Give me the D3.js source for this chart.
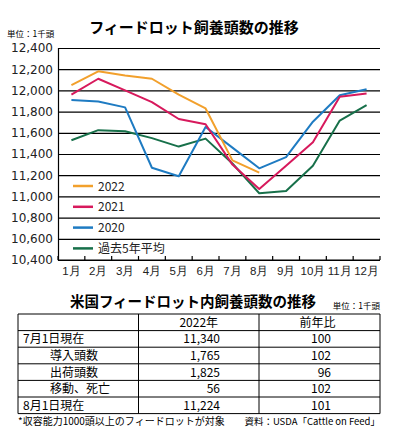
<!DOCTYPE html>
<html><head><meta charset="utf-8">
<script src="https://cdn.jsdelivr.net/npm/d3@7"></script>
<style>
body{margin:0;background:#fff;}
svg{display:block;font-family:"Noto Sans CJK JP","Noto Sans",sans-serif;}
</style></head>
<body><svg id="c" width="398" height="433"></svg>
<script>
const months = ["1月","2月","3月","4月","5月","6月","7月","8月","9月","10月","11月","12月"];
const yTicks = [10400,10600,10800,11000,11200,11400,11600,11800,12000,12200,12400];
const s2022 = [12050,12180,12140,12110,11960,11830,11340,11224];
const s2021 = [11960,12110,12000,11890,11730,11680,11300,11070,11290,11510,11940,11970];
const s2020 = [11910,11895,11840,11270,11190,11655,11460,11265,11370,11705,11955,12010];
const sAvg  = [11530,11625,11615,11550,11470,11545,11310,11030,11050,11290,11715,11860];
const seriesNames = ["2022","2021","2020","過去5年平均"];
const seriesColors = ["#F2A02C","#D7195C","#1E7BC2","#17704A"];

const tableHeader = ["","2022年","前年比"];
const rowLabels = ["7月1日現在","導入頭数","出荷頭数","移動、死亡","8月1日現在"];
const rowIndent = [false,true,true,true,false];
const val2022 = ["11,340","1,765","1,825","56","11,224"];
const valYoY = ["100","102","96","102","101"];

const svg = d3.select("#c");
const L=58, R=380, T=48, B=260;
const x = d3.scaleBand().domain(months).range([L,R]).padding(0);
const y = d3.scaleLinear().domain([10400,12400]).range([B,T]);

// title
svg.append("text").attr("x",194).attr("y",33).attr("text-anchor","middle")
  .attr("font-size",15).attr("font-weight","bold").text("フィードロット飼養頭数の推移");
svg.append("text").attr("x",7).attr("y",37).attr("font-size",8.5).text("単位：1千頭");

// gridlines + y labels
const ga = svg.append("g").attr("transform",`translate(${L},0)`)
  .call(d3.axisLeft(y).tickValues(yTicks).tickFormat(d3.format(",")).tickSize(-(R-L)).tickPadding(5));
ga.select(".domain").attr("stroke","#000").attr("stroke-width",1.2);
ga.selectAll(".tick line").attr("stroke","#000").attr("stroke-width",1.2);
ga.selectAll(".tick text").attr("fill","#222")
  .attr("font-family","Verdana,'DejaVu Sans',sans-serif").attr("font-size",12).attr("x",-5);

// x axis
const xa = svg.append("g").attr("transform",`translate(0,${B})`)
  .call(d3.axisBottom(x).tickSize(0).tickPadding(7));
xa.select(".domain").remove();
xa.selectAll(".tick text").attr("font-size",11.5).attr("fill","#222");
const edges = months.map(m=>x(m)).concat([x(months[months.length-1])+x.bandwidth()]);
svg.append("g").selectAll("line").data(edges).join("line")
  .attr("x1",d=>d).attr("x2",d=>d).attr("y1",B).attr("y2",B-4)
  .attr("stroke","#000").attr("stroke-width",1.2);
svg.append("line").attr("x1",L).attr("x2",R).attr("y1",B).attr("y2",B).attr("stroke","#000").attr("stroke-width",1.2);

// lines
const line = d3.line().x((d,i)=>x(months[i])+x.bandwidth()/2).y(d=>y(d));
const data = [sAvg, s2020, s2021, s2022];
const cols = [seriesColors[3],seriesColors[2],seriesColors[1],seriesColors[0]];
data.forEach((s,k)=>{
  svg.append("path").datum(s).attr("d",line).attr("fill","none")
    .attr("stroke",cols[k]).attr("stroke-width",2).attr("stroke-linejoin","round");
});

// legend
const lg = svg.append("g");
seriesNames.forEach((n,i)=>{
  const yy = 186 + i*20.8;
  lg.append("line").attr("x1",73).attr("x2",93).attr("y1",yy).attr("y2",yy)
    .attr("stroke",seriesColors[i]).attr("stroke-width",2.5);
  lg.append("text").attr("x",98).attr("y",yy+4.5).attr("font-size",12).attr("fill","#222").text(n);
});

// table title
svg.append("text").attr("x",193).attr("y",307).attr("text-anchor","middle")
  .attr("font-size",14.5).attr("font-weight","bold").text("米国フィードロット内飼養頭数の推移");
svg.append("text").attr("x",380).attr("y",309).attr("text-anchor","end")
  .attr("font-size",8.5).text("単位：1千頭");

// table
const tx = [18,138.5,259,380];
const rowH = 16.6, tTop = 314;
const nRows = rowLabels.length+1;
const tg = svg.append("g");
for(let r=0;r<=nRows;r++){
  tg.append("line").attr("x1",tx[0]).attr("x2",tx[3]).attr("y1",tTop+r*rowH).attr("y2",tTop+r*rowH)
    .attr("stroke","#000").attr("stroke-width",1);
}
tx.forEach(xx=>tg.append("line").attr("x1",xx).attr("x2",xx).attr("y1",tTop).attr("y2",tTop+nRows*rowH)
  .attr("stroke","#000").attr("stroke-width",1));
tg.append("text").attr("x",(tx[1]+tx[2])/2).attr("y",tTop+rowH/2+4.5).attr("text-anchor","middle").attr("font-size",12).text(tableHeader[1]);
tg.append("text").attr("x",(tx[2]+tx[3])/2-2).attr("y",tTop+rowH/2+4.5).attr("text-anchor","middle").attr("font-size",12).text(tableHeader[2]);
rowLabels.forEach((lab,i)=>{
  const cy = tTop+(i+1)*rowH+rowH/2+4.5;
  tg.append("text").attr("x",rowIndent[i]?50:23).attr("y",cy).attr("font-size",12).text(lab);
  tg.append("text").attr("x",220).attr("y",cy).attr("text-anchor","end").attr("font-size",12).text(val2022[i]);
  tg.append("text").attr("x",331).attr("y",cy).attr("text-anchor","end").attr("font-size",12).text(valYoY[i]);
});

svg.append("text").attr("x",18).attr("y",425).attr("font-size",10).text("*収容能力1000頭以上のフィードロットが対象");
svg.append("text").attr("x",380).attr("y",425).attr("text-anchor","end").attr("font-size",9.5).text("資料：USDA「Cattle on Feed」");
</script></body></html>
